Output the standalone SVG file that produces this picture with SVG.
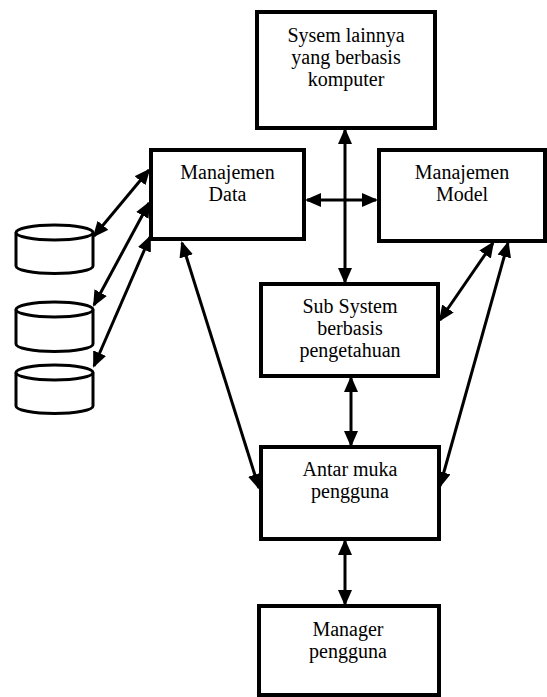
<svg xmlns="http://www.w3.org/2000/svg" width="547" height="697" viewBox="0 0 547 697">
<style>
.box{fill:#fff;stroke:#000;stroke-width:4}
.cyl{fill:#fff;stroke:#000;stroke-width:3}
.t{font-family:"Liberation Serif","Times New Roman",serif;font-size:20px;fill:#000;text-anchor:middle}
.c{stroke:#000;stroke-width:3;fill:none;marker-start:url(#ah);marker-end:url(#ah)}
</style>
<defs>
<marker id="ah" markerUnits="userSpaceOnUse" markerWidth="16" markerHeight="14" refX="14" refY="7" orient="auto-start-reverse" viewBox="0 0 16 14">
<path d="M0,0 L16,7 L0,14 Z" fill="#000"/>
</marker>
</defs>
<rect width="547" height="697" fill="#fff"/>
<g id="connectors">
<line class="c" x1="345" y1="130" x2="345" y2="282"/>
<line class="c" x1="307" y1="200" x2="376" y2="200"/>
<line class="c" x1="351" y1="378" x2="351" y2="445"/>
<line class="c" x1="345" y1="541" x2="345" y2="604"/>
<line class="c" x1="94" y1="236" x2="149" y2="170"/>
<line class="c" x1="94" y1="305" x2="149" y2="203"/>
<line class="c" x1="94" y1="366" x2="150" y2="237"/>
<line class="c" x1="182" y1="243" x2="259" y2="488"/>
<line class="c" x1="493" y1="243" x2="440" y2="320"/>
<line class="c" x1="508" y1="243" x2="440" y2="486"/>
</g>
<g id="sistem-lain">
<rect class="box" x="257" y="12" width="178" height="116"/>
<text class="t" x="346" y="42">Sysem lainnya</text>
<text class="t" x="346" y="64">yang berbasis</text>
<text class="t" x="346" y="86">komputer</text>
</g>
<g id="manajemen-data">
<rect class="box" x="151" y="150" width="153" height="89"/>
<text class="t" x="227.5" y="179">Manajemen</text>
<text class="t" x="227.5" y="201">Data</text>
</g>
<g id="manajemen-model">
<rect class="box" x="379" y="150" width="166" height="91"/>
<text class="t" x="462" y="179">Manajemen</text>
<text class="t" x="462" y="201">Model</text>
</g>
<g id="sub-system">
<rect class="box" x="261" y="284" width="177" height="92"/>
<text class="t" x="350" y="313">Sub System</text>
<text class="t" x="350" y="335">berbasis</text>
<text class="t" x="350" y="357">pengetahuan</text>
</g>
<g id="antar-muka">
<rect class="box" x="261" y="447" width="178" height="92"/>
<text class="t" x="350" y="476">Antar muka</text>
<text class="t" x="350" y="498">pengguna</text>
</g>
<g id="manager">
<rect class="box" x="259" y="606" width="180" height="89"/>
<text class="t" x="348" y="636">Manager</text>
<text class="t" x="348" y="658">pengguna</text>
</g>
<g id="db1">
<path class="cyl" d="M16,232.5 V266 A38.5,7.5 0 0 0 93,266 V232.5"/>
<ellipse class="cyl" cx="54.5" cy="232.5" rx="38.5" ry="7.5"/>
</g>
<g id="db2">
<path class="cyl" d="M16,309.5 V344 A38.5,7.5 0 0 0 93,344 V309.5"/>
<ellipse class="cyl" cx="54.5" cy="309.5" rx="38.5" ry="7.5"/>
</g>
<g id="db3">
<path class="cyl" d="M16,372.5 V406 A38.5,7.5 0 0 0 93,406 V372.5"/>
<ellipse class="cyl" cx="54.5" cy="372.5" rx="38.5" ry="7.5"/>
</g>
</svg>
